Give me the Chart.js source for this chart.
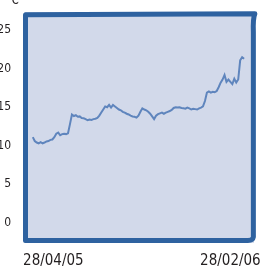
<!DOCTYPE html>
<html>
<head>
<meta charset="utf-8">
<script src="https://cdn.jsdelivr.net/npm/chart.js@4"></script>
<style>
  html, body { margin: 0; padding: 0; background: #fff; overflow: hidden; }
  #wrap { position: relative; width: 262px; height: 267px; }
  #unit { position: absolute; left: 11px; top: -9px; line-height: 14px; font: 14px 'Liberation Sans Narrow', 'DejaVu Sans Condensed', sans-serif; color: #231f20; }
</style>
</head>
<body>
<div id="wrap">
  <canvas id="priceChart" width="262" height="267"></canvas>
  <div id="unit">€</div>
</div>
<script>
// --- data ---
const prices = [
  11.1, 10.6, 10.4, 10.3, 10.45, 10.3, 10.4, 10.55, 10.6, 10.75,
  10.8, 11.1, 11.55, 11.7, 11.35, 11.5, 11.55, 11.5, 11.6, 12.8,
  14.05, 13.85, 13.95, 13.75, 13.8, 13.6, 13.55, 13.45, 13.3, 13.4,
  13.35, 13.45, 13.5, 13.6, 13.9, 14.3, 14.7, 15.1, 15.0, 15.3,
  14.95, 15.3, 15.1, 14.9, 14.7, 14.6, 14.4, 14.3, 14.15, 14.05,
  13.9, 13.8, 13.75, 13.65, 13.9, 14.4, 14.85, 14.7, 14.6, 14.4,
  14.15, 13.8, 13.45, 13.9, 14.1, 14.2, 14.3, 14.15, 14.3, 14.4,
  14.5, 14.65, 14.9, 15.0, 14.95, 15.0, 14.9, 14.85, 14.8, 14.95,
  14.85, 14.7, 14.8, 14.75, 14.7, 14.85, 14.95, 15.1, 15.8, 16.9,
  17.05, 16.9, 17.0, 16.95, 17.1, 17.6, 18.2, 18.6, 19.2, 18.3,
  18.6, 18.3, 18.0, 18.7, 18.2, 18.6, 21.1, 21.5, 21.3
];
const dateLabels = ['28/04/05', '28/02/06'];
const dateIndex = [10.5, 101];
const yTicks = [0, 5, 10, 15, 20, 25];

const tickFont = "'Liberation Sans Narrow', 'DejaVu Sans Condensed', 'Liberation Sans', sans-serif";
const FRAME = '#2e62a0';
const FILL = '#d2d9ea';

// fond + cadre "dessiné à la main"
const framePlugin = {
  id: 'frame',
  beforeDatasetsDraw(chart) {
    const { ctx, chartArea: a } = chart;
    ctx.save();
    ctx.fillStyle = FILL;
    ctx.fillRect(a.left, a.top, a.right - a.left, a.bottom - a.top);
    ctx.restore();
  },
  afterDatasetsDraw(chart) {
    const { ctx, chartArea: a } = chart;
    ctx.save();
    ctx.strokeStyle = FRAME;
    ctx.lineWidth = 5;
    ctx.lineJoin = 'round';
    ctx.beginPath();
    ctx.moveTo(a.left + 1.5, a.bottom - 2.5);
    ctx.lineTo(a.left + 1.5, a.top + 2.5);
    ctx.lineTo(a.right + 1, a.top + 1.5);
    ctx.quadraticCurveTo(a.right - 1, a.top + 6, a.right - 0.5, a.top + 20);
    ctx.lineTo(a.right - 0.5, a.bottom - 6);
    ctx.quadraticCurveTo(a.right - 1, a.bottom - 2.5, a.right - 6, a.bottom - 2.5);
    ctx.closePath();
    ctx.stroke();
    ctx.restore();
  }
};

new Chart(document.getElementById('priceChart'), {
  type: 'line',
  data: {
    datasets: [{
      data: prices.map((v, i) => ({ x: i, y: v })),
      borderColor: '#5f85bd',
      borderWidth: 2,
      pointRadius: 0,
      tension: 0
    }]
  },
  options: {
    responsive: false,
    animation: false,
    devicePixelRatio: 1,
    layout: { padding: { top: 10, right: 3, left: 0, bottom: 0 } },
    plugins: { legend: { display: false }, tooltip: { enabled: false } },
    scales: {
      x: {
        type: 'linear',
        min: -4.5,
        max: 113,
        grid: { display: false },
        border: { display: false },
        afterBuildTicks: (scale) => { scale.ticks = dateIndex.map(v => ({ value: v })); },
        afterFit: (scale) => { scale.height = 24; },
        ticks: {
          autoSkip: false,
          maxRotation: 0,
          padding: 1,
          color: '#231f20',
          font: { family: tickFont, size: 15 },
          callback: (v) => dateLabels[dateIndex.indexOf(v)]
        }
      },
      y: {
        min: -2.67,
        max: 27.36,
        grid: { display: false },
        border: { display: false },
        afterBuildTicks: (scale) => { scale.ticks = yTicks.map(v => ({ value: v })); },
        afterFit: (scale) => { scale.width = 24; },
        ticks: {
          padding: 5,
          color: '#231f20',
          font: { family: tickFont, size: 12 }
        }
      }
    }
  },
  plugins: [framePlugin]
});
</script>
</body>
</html>
